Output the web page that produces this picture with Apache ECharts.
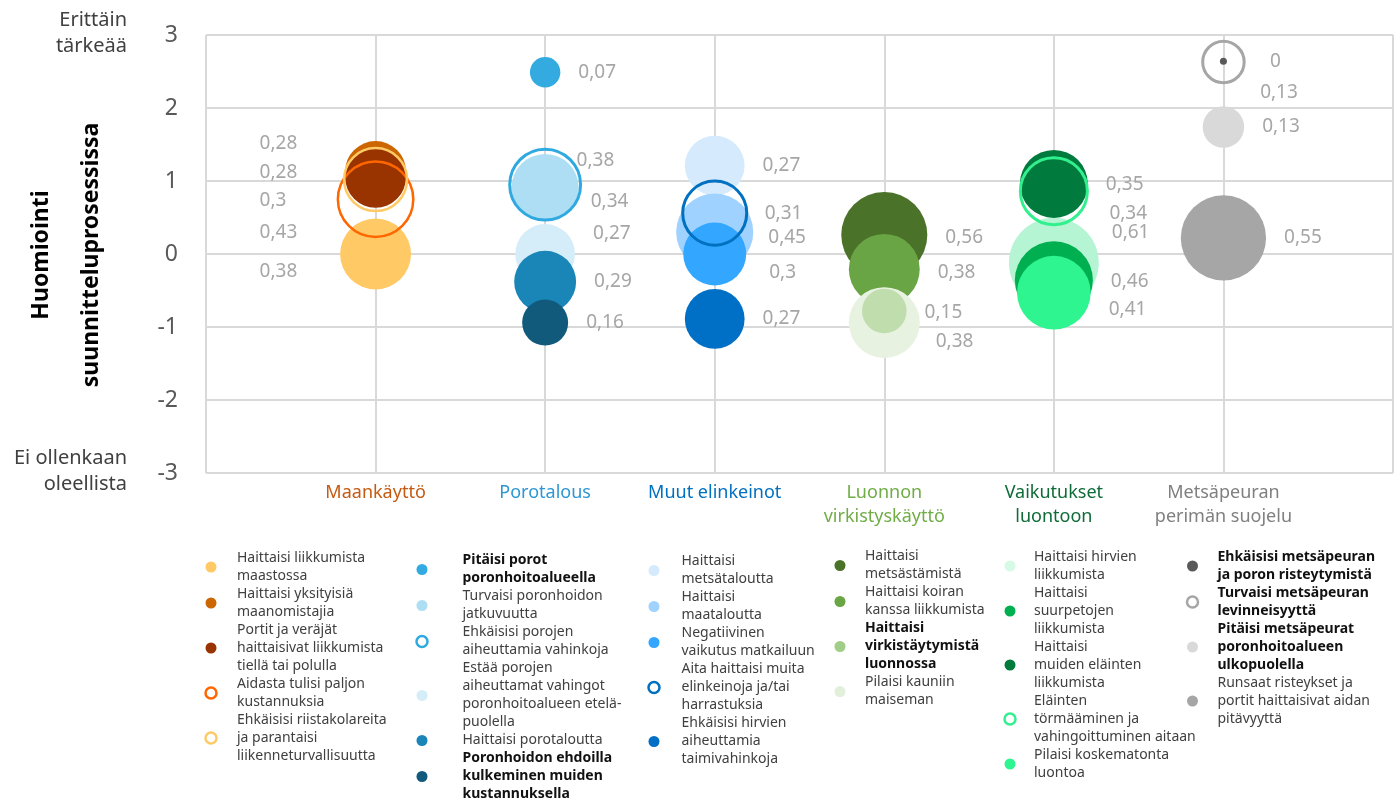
<!DOCTYPE html>
<html>
<head>
<meta charset="utf-8">
<script src="https://cdn.jsdelivr.net/npm/echarts@6/dist/echarts.min.js"></script>
<style>
  html, body { margin: 0; padding: 0; background: #fff; }
  #chart { width: 1398px; height: 805px; }
</style>
</head>
<body>
<div id="chart"></div>
<script>
// --- data ---
const categories = ['Maankäyttö', 'Porotalous', 'Muut elinkeinot', 'Luonnon\nvirkistyskäyttö', 'Vaikutukset\nluontoon', 'Metsäpeuran\nperimän suojelu']
const scaleEnds = ['Ei ollenkaan\noleellista', 'Erittäin\ntärkeää']
const yTitle = 'Huomiointi\nsuunnitteluprosessissa'

const maankayttoNames = ['Haittaisi liikkumista\nmaastossa', 'Haittaisi yksityisiä\nmaanomistajia', 'Portit ja veräjät\nhaittaisivat liikkumista\ntiellä tai polulla', 'Aidasta tulisi paljon\nkustannuksia', 'Ehkäisisi riistakolareita\nja parantaisi\nliikenneturvallisuutta']
const maankayttoMean = [0.0, 1.13, 1.05, 0.75, 1.02]
const maankayttoSize = [0.38, 0.28, 0.28, 0.43, 0.3]

const porotalousNames = ['Pitäisi porot\nporonhoitoalueella', 'Turvaisi poronhoidon\njatkuvuutta', 'Ehkäisisi porojen\naiheuttamia vahinkoja', 'Estää porojen\naiheuttamat vahingot\nporonhoitoalueen etelä-\npuolella', 'Haittaisi porotaloutta', 'Poronhoidon ehdoilla\nkulkeminen muiden\nkustannuksella']
const porotalousMean = [2.49, 0.91, 0.95, 0.0, -0.38, -0.94]
const porotalousSize = [0.07, 0.34, 0.38, 0.27, 0.29, 0.16]

const elinkeinotNames = ['Haittaisi\nmetsätaloutta', 'Haittaisi\nmaataloutta', 'Negatiivinen\nvaikutus matkailuun', 'Aita haittaisi muita\nelinkeinoja ja/tai\nharrastuksia', 'Ehkäisisi hirvien\naiheuttamia\ntaimivahinkoja']
const elinkeinotMean = [1.21, 0.30, 0.0, 0.56, -0.89]
const elinkeinotSize = [0.27, 0.45, 0.3, 0.31, 0.27]

const virkistysNames = ['Haittaisi\nmetsästämistä', 'Haittaisi koiran\nkanssa liikkumista', 'Haittaisi\nvirkistäytymistä\nluonnossa', 'Pilaisi kauniin\nmaiseman']
const virkistysMean = [0.26, -0.21, -0.78, -0.94]
const virkistysSize = [0.56, 0.38, 0.15, 0.38]

const luontoNames = ['Haittaisi hirvien\nliikkumista', 'Haittaisi\nsuurpetojen\nliikkumista', 'Haittaisi\nmuiden eläinten\nliikkumista', 'Eläinten\ntörmääminen ja\nvahingoittuminen aitaan', 'Pilaisi koskematonta\nluontoa']
const luontoMean = [-0.12, -0.36, 0.96, 0.86, -0.53]
const luontoSize = [0.61, 0.46, 0.35, 0.34, 0.41]

const metsapeuraNames = ['Ehkäisisi metsäpeuran\nja poron risteytymistä', 'Turvaisi metsäpeuran\nlevinneisyyttä', 'Pitäisi metsäpeurat\nporonhoitoalueen\nulkopuolella', 'Runsaat risteykset ja\nportit haittaisivat aidan\npitävyyttä']
const metsapeuraMean = [2.64, 2.63, 1.74, 0.22]
const metsapeuraSize = [0, 0.13, 0.13, 0.55]

// --- styles ---
const FONT = '"Noto Sans", "Open Sans", sans-serif'
const categoryColors = ['#C55A11', '#2E97D3', '#0070C0', '#70AD47', '#0F6B38', '#808080']
const groupStyle = [
  { colors: ['#FFC966', '#CC6600', '#993300', '#FF6600', '#FFC966'], ring: [0, 0, 0, 2.5, 2.5], bold: [],
    labelSide: 'left', nudge: [[0, 18], [0, -28], [0, -5], [0, 33], [0, 21]],
    legend: { marker: 211, iw: 42, top: 549 } },
  { colors: ['#33ABE1', '#ADDEF3', '#2FA9E0', '#D5EDF8', '#1A86B8', '#115A7C'], ring: [0, 0, 3, 0, 0, 0], bold: [0, 5],
    labelSide: 'right', nudge: [[0, 0], [-6, 14], [-22, -24], [0, -20], [0, 0], [0, 0]],
    legend: { marker: 422, iw: 71, top: 551.5 } },
  { colors: ['#D5EBFD', '#9FD2FF', '#33A6FF', '#0070C0', '#0070C6'], ring: [0, 0, 0, 3, 0], bold: [],
    labelSide: 'right', nudge: [[0, 0], [-3, 5], [5, 19], [0, 0], [0, 0]],
    legend: { marker: 654, iw: 45, top: 552.5 } },
  { colors: ['#4A7229', '#6AA545', '#C0DDAE', '#E7F2E1'], ring: [0, 0, 0, 0], bold: [2],
    legendColors: { 2: '#A0CE86', 3: '#E2EFDA' }, z: { 2: 3 },
    labelSide: 'right', nudge: [[0, 3], [0, 3], [0, 2], [-2, 19]],
    legend: { marker: 840, iw: 40, top: 547.5 } },
  { colors: ['#B5F5D3', '#00B050', '#007A3D', '#33F08F', '#2EF58F'], ring: [0, 0, 0, 3, 0], bold: [],
    legendColors: { 0: '#D6FAE6' },
    labelSide: 'right', nudge: [[-5, -30], [0, 1], [0, 1], [4, 22], [0, 17]],
    legend: { marker: 1010, iw: 38, top: 548 } },
  { colors: ['#595959', '#A6A6A6', '#D9D9D9', '#A6A6A6'], ring: [0, 3, 0, 0], bold: [0, 1, 2],
    labelSide: 'right', nudge: [[25, 0], [-2, 31], [0, 0], [0, 0]],
    legend: { marker: 1192.5, iw: 40, top: 548 } }
]

const groups = [
  { names: maankayttoNames, mean: maankayttoMean, size: maankayttoSize },
  { names: porotalousNames, mean: porotalousMean, size: porotalousSize },
  { names: elinkeinotNames, mean: elinkeinotMean, size: elinkeinotSize },
  { names: virkistysNames, mean: virkistysMean, size: virkistysSize },
  { names: luontoNames, mean: luontoMean, size: luontoSize },
  { names: metsapeuraNames, mean: metsapeuraMean, size: metsapeuraSize }
]

const bubbleDiameter = (s) => Math.max(7, 115 * Math.sqrt(s))
const LEGEND_ICON = 11

const series = []
const legends = []
const boldNames = new Set()

groups.forEach((g, gi) => {
  const st = groupStyle[gi]
  g.names.forEach((name, i) => {
    const d = bubbleDiameter(g.size[i])
    const ringW = st.ring[i]
    const [nx, ny] = st.nudge[i]
    const dx = st.labelSide === 'left' ? -116 + nx : d / 2 + 18 + nx
    series.push({
      type: 'scatter',
      name: name,
      z: (st.z && st.z[i]) || 2,
      data: [[gi + 1, g.mean[i], g.size[i]]],
      symbol: 'circle',
      symbolSize: (v) => bubbleDiameter(v[2]),
      itemStyle: ringW
        ? { color: 'rgba(255,255,255,0)', borderColor: st.colors[i], borderWidth: ringW, opacity: 1 }
        : { color: st.colors[i], opacity: 1 },
      label: {
        show: true,
        position: 'inside',
        align: 'left',
        verticalAlign: 'middle',
        offset: [dx, ny],
        color: '#A6A6A6',
        fontSize: 19,
        fontFamily: FONT,
        formatter: (p) => String(p.value[2]).replace('.', ',')
      },
      emphasis: { disabled: true }
    })
  })
  st.bold.forEach(i => boldNames.add(g.names[i]))
  const hasRing = st.ring.some(w => w > 0)
  legends.push({
    orient: 'vertical',
    // the legend box starts at the icon's left edge, not at the itemWidth slot
    left: st.legend.marker - LEGEND_ICON / 2 - (hasRing ? 1.25 : 0),
    top: st.legend.top,
    height: 300,
    padding: 0,
    itemGap: 0,
    itemWidth: st.legend.iw,
    itemHeight: LEGEND_ICON,
    selectedMode: false,
    data: g.names.map((n, i) => {
      const lc = (st.legendColors && st.legendColors[i]) || st.colors[i]
      return {
        name: n,
        icon: 'circle',
        itemStyle: st.ring[i]
          ? { color: '#fff', borderColor: lc, borderWidth: 2.5 }
          : { color: lc, borderWidth: 0 }
      }
    }),
    formatter: (n) => boldNames.has(n) ? n.split('\n').map(l => '{b|' + l + '}').join('\n') : n,
    textStyle: {
      fontFamily: FONT,
      fontSize: 14,
      lineHeight: 18,
      color: '#404040',
      rich: { b: { fontFamily: FONT, fontSize: 14, lineHeight: 18, fontWeight: 'bold', color: '#111' } }
    }
  })
})

const catRich = {}
categoryColors.forEach((c, i) => {
  catRich['c' + (i + 1)] = { color: c, fontSize: 18, lineHeight: 24, fontFamily: FONT }
})

const chart = echarts.init(document.getElementById('chart'))
chart.setOption({
  animation: false,
  grid: { left: 206, right: 5, top: 35, bottom: 332, containLabel: false, outerBoundsMode: 'none' },
  xAxis: {
    type: 'value',
    min: 0,
    max: 7,
    interval: 1,
    axisLine: { show: false },
    axisTick: { show: false },
    splitLine: { show: true, lineStyle: { color: '#D9D9D9', width: 2 } },
    axisLabel: {
      margin: 8,
      showMinLabel: false,
      showMaxLabel: false,
      formatter: (v) => {
        if (v < 1 || v > categories.length) return ''
        return categories[v - 1].split('\n').map(l => '{c' + v + '|' + l + '}').join('\n')
      },
      rich: catRich
    }
  },
  yAxis: {
    type: 'value',
    min: -3,
    max: 3,
    interval: 1,
    axisLine: { show: false },
    axisTick: { show: false },
    splitLine: { show: true, lineStyle: { color: '#D9D9D9', width: 2 } },
    axisLabel: { margin: 28, fontSize: 23, color: '#595959', fontFamily: FONT }
  },
  legend: legends,
  graphic: [
    {
      type: 'text', x: 127, y: 33,
      style: { text: scaleEnds[1], align: 'right', verticalAlign: 'middle', fontSize: 20, lineHeight: 26, fill: '#404040', fontFamily: FONT }
    },
    {
      type: 'text', x: 127, y: 471,
      style: { text: scaleEnds[0], align: 'right', verticalAlign: 'middle', fontSize: 20, lineHeight: 26, fill: '#404040', fontFamily: FONT }
    },
    {
      type: 'text', x: 66, y: 255, rotation: Math.PI / 2,
      style: { text: yTitle, align: 'center', verticalAlign: 'middle', fontSize: 23, lineHeight: 50, fontWeight: 'bold', fill: '#000', fontFamily: FONT }
    }
  ],
  series: series
})
</script>
</body>
</html>
